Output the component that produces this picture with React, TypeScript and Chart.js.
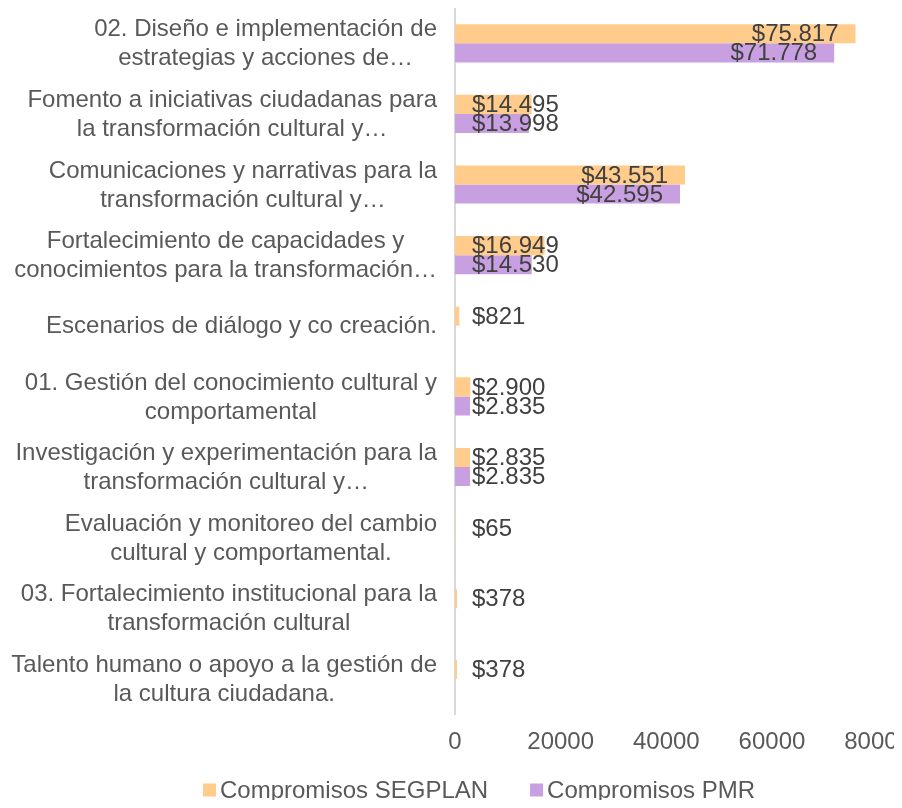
import React, { useEffect, useRef } from "react";
import { Chart, registerables } from "chart.js";

Chart.register(...registerables);

const categories: string[][] = [
  ["02. Diseño e implementación de", "estrategias y acciones de…"],
  ["Fomento a iniciativas ciudadanas para", "la transformación cultural y…"],
  ["Comunicaciones y narrativas para la", "transformación cultural y…"],
  ["Fortalecimiento de capacidades y", "conocimientos para la transformación…"],
  ["Escenarios de diálogo y co creación."],
  ["01. Gestión del conocimiento cultural y", "comportamental"],
  ["Investigación y experimentación para la", "transformación cultural y…"],
  ["Evaluación y monitoreo del cambio", "cultural y comportamental."],
  ["03. Fortalecimiento institucional para la", "transformación cultural"],
  ["Talento humano o apoyo a la gestión de", "la cultura ciudadana."],
];

const segplanValues: (number | null)[] = [75817, 14495, 43551, 16949, 821, 2900, 2835, 65, 378, 378];
const pmrValues: (number | null)[] = [71778, 13998, 42595, 14530, null, 2835, 2835, null, null, null];
const seriesNames = ["Compromisos SEGPLAN", "Compromisos PMR"];
const xTickValues = [0, 20000, 40000, 60000, 80000];

const FONT = "'Liberation Sans', Arial, sans-serif";
const FS = 24;
const ORANGE = "#FFCC8C";
const PURPLE = "#C8A0E1";

function fmt(v: number): string {
  return "$" + String(v).replace(/\B(?=(\d{3})+(?!\d))/g, ".");
}

const customPlugin = {
  id: "customLabels",
  afterDatasetsDraw(chart: any) {
    const ctx = chart.ctx;
    const xs = chart.scales.x;
    const ys = chart.scales.y;
    const x0 = xs.getPixelForValue(0);
    ctx.save();
    ctx.font = `${FS}px ${FONT}`;
    ctx.textBaseline = "middle";
    ctx.textAlign = "left";
    ctx.fillStyle = "#404040";
    chart.data.datasets.forEach((ds: any, di: number) => {
      const meta = chart.getDatasetMeta(di);
      meta.data.forEach((bar: any, i: number) => {
        const v = ds.data[i];
        if (v == null) return;
        const t = fmt(v);
        const w = ctx.measureText(t).width;
        let left = bar.x - 17 - w;
        if (left < x0 + 17) left = x0 + 17;
        ctx.fillText(t, left, bar.y + 1);
      });
    });

    // category labels: block right aligned, lines centered within block
    ctx.fillStyle = "#595959";
    ctx.textAlign = "center";
    const right = ys.right - 18;
    const lineH = 29;
    categories.forEach((lines, i) => {
      const c = ys.getPixelForValue(i);
      const widths = lines.map((l) => ctx.measureText(l).width);
      const blockW = Math.max(...widths);
      const cx = right - blockW / 2;
      const y0 = c - ((lines.length - 1) * lineH) / 2;
      lines.forEach((l, k) => ctx.fillText(l, cx, y0 + k * lineH + 1));
    });

    // legend
    const colors = chart.data.datasets.map((d: any) => d.backgroundColor);
    const names = chart.data.datasets.map((d: any) => d.label);
    const box = 13;
    const gapBox = 4;
    const gapItem = 42;
    const tw = names.map((n: string) => ctx.measureText(n).width);
    let lx = 195;
    const ly = chart.height - 10;
    ctx.textAlign = "left";
    names.forEach((n: string, k: number) => {
      ctx.fillStyle = colors[k];
      ctx.fillRect(lx, ly - box / 2, box, box);
      lx += box + gapBox;
      ctx.fillStyle = "#595959";
      ctx.fillText(n, lx, ly + 1);
      lx += tw[k] + gapItem;
    });
    ctx.restore();
  },
};

export default function App() {
  const ref = useRef<HTMLCanvasElement>(null);
  useEffect(() => {
    Chart.defaults.font.family = FONT;
    Chart.defaults.font.size = FS;
    const chart = new Chart(ref.current as HTMLCanvasElement, {
      type: "bar",
      data: {
        labels: categories.map((l) => l.join(" ")),
        datasets: [
          {
            label: seriesNames[0],
            data: segplanValues,
            backgroundColor: ORANGE,
            borderWidth: 0,
            barPercentage: 1,
            categoryPercentage: 0.54,
          },
          {
            label: seriesNames[1],
            data: pmrValues,
            backgroundColor: PURPLE,
            borderWidth: 0,
            barPercentage: 1,
            categoryPercentage: 0.54,
          },
        ],
      },
      options: {
        indexAxis: "y",
        responsive: true,
        maintainAspectRatio: false,
        animation: false,
        layout: { padding: { left: 38, top: 0, right: 0, bottom: 37 } },
        scales: {
          x: {
            min: 0,
            max: 80000,
            grid: { display: false },
            border: { display: false },
            afterBuildTicks: (scale: any) => {
              scale.ticks = xTickValues.map((v) => ({ value: v }));
            },
            ticks: {
              color: "#595959",
              padding: 6,
              font: { size: FS, family: FONT },
              callback: (v: any) => String(v),
            },
          },
          y: {
            grid: { display: false },
            border: { display: true, color: "#D9D9D9", width: 2 },
            ticks: { display: false },
            afterFit: (scale: any) => {
              scale.width = 409;
            },
          },
        },
        plugins: {
          legend: { display: false },
          tooltip: { enabled: false },
        },
      },
      plugins: [customPlugin],
    } as any);
    return () => chart.destroy();
  }, []);
  return (
    <div style={{ width: 894, height: 792, overflow: "hidden" }}>
      <div style={{ position: "relative", width: 909, height: 792 }}>
        <canvas ref={ref} />
      </div>
    </div>
  );
}
